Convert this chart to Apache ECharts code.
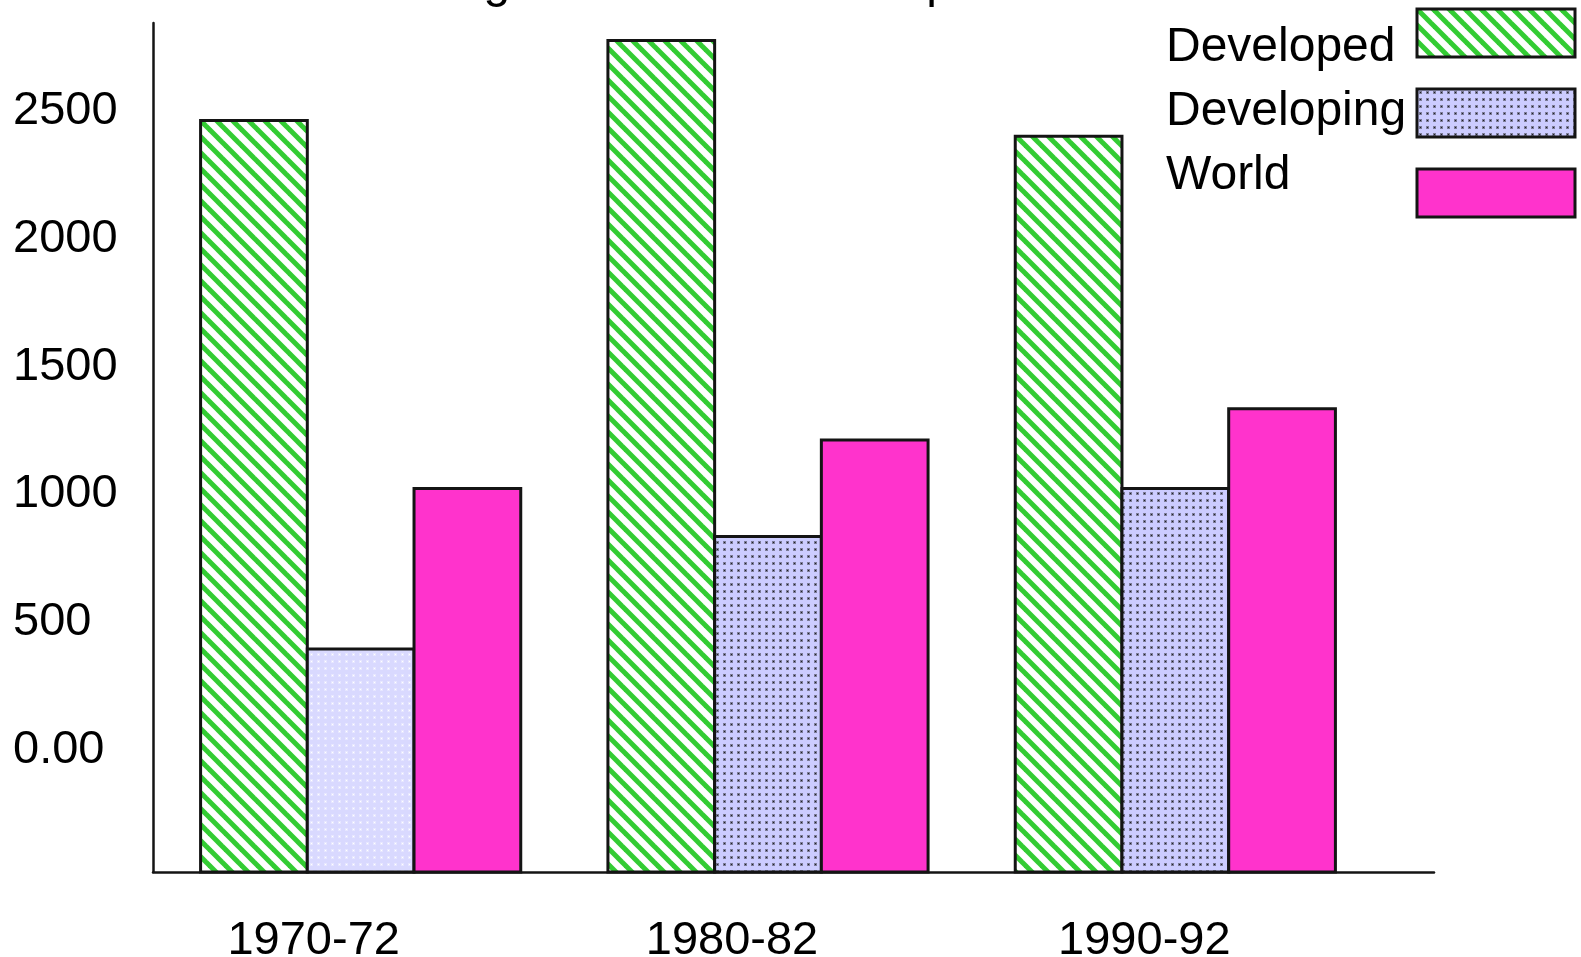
<!DOCTYPE html>
<html>
<head>
<meta charset="utf-8">
<title>Average Fertilizer Consumption</title>
<script src="https://cdn.jsdelivr.net/npm/echarts@6/dist/echarts.min.js"></script>
<style>
  html, body { margin: 0; padding: 0; background: #ffffff; }
  #chart { width: 1581px; height: 957px; }
</style>
</head>
<body>
<div id="chart"></div>
<script>
// Categories and values per group
const categories = ['1970-72', '1980-82', '1990-92'];
const developed = [2439, 2752, 2377];
const developing = [372, 812, 1000];
const world = [1000, 1189, 1312];
const seriesNames = ['Developed', 'Developing', 'World'];

// Value-axis tick labels
const yTickValues = [0, 500, 1000, 1500, 2000, 2500];
const yTickLabels = ['0.00', '500', '1000', '1500', '2000', '2500'];

const FONT = '"Liberation Sans", Arial, Helvetica, sans-serif';

// ---- fill patterns ----
function stripePattern() {
  const s = 16;
  const c = document.createElement('canvas');
  c.width = s; c.height = s;
  const g = c.getContext('2d');
  g.fillStyle = '#ffffff';
  g.fillRect(0, 0, s, s);
  g.strokeStyle = '#33cc33';
  g.lineWidth = 5;
  for (const o of [-s, 0, s]) {
    g.beginPath();
    g.moveTo(o - 2, -2);
    g.lineTo(o + s + 2, s + 2);
    g.stroke();
  }
  return { image: c, repeat: 'repeat' };
}

function dotPattern(bg, ring, core) {
  const s = 7;
  const c = document.createElement('canvas');
  c.width = s; c.height = s;
  const g = c.getContext('2d');
  g.fillStyle = bg;
  g.fillRect(0, 0, s, s);
  g.fillStyle = ring;
  g.fillRect(2, 2, 3, 3);
  g.fillStyle = core;
  g.fillRect(3, 3, 1, 1);
  return { image: c, repeat: 'repeat' };
}

const fills = [
  [stripePattern()],
  [
    dotPattern('#d9d9ff', '#e6e6ff', '#ffffff'),
    dotPattern('#ccccff', '#7c7c98', '#202028'),
    dotPattern('#ccccff', '#7c7c98', '#202028')
  ],
  ['#ff33cc']
];
const legendFills = [fills[0][0], fills[1][1], fills[2][0]];

const BAR_FRACTION = 0.262;  // width of one bar as a share of the category band
const STROKE = '#141414';

function makeRenderer(seriesIdx) {
  return function (params, api) {
    const idx = api.value(0);
    const val = api.value(1);
    const top = api.coord([idx, val]);
    const band = api.size([1, 0])[0];
    const w = band * BAR_FRACTION;
    const x0 = top[0] + 4 - w * 1.5 + seriesIdx * w;
    const baseY = params.coordSys.y + params.coordSys.height;
    const list = fills[seriesIdx];
    const fill = list[params.dataIndex] || list[0];
    return {
      type: 'rect',
      shape: { x: x0, y: top[1], width: w, height: baseY - top[1] },
      style: { fill: fill, stroke: STROKE, lineWidth: 3 }
    };
  };
}

function toData(arr) {
  return arr.map((v, i) => [i, v]);
}

const valueSets = [developed, developing, world];

// Legend: names in one column, swatches in another
const legendNames = {
  data: seriesNames.map(name => ({ name: name, itemStyle: { opacity: 0, borderWidth: 0 } })),
  left: 1160,
  top: 24,
  padding: 0,
  orient: 'vertical',
  align: 'left',
  itemWidth: 1,
  itemHeight: 1,
  itemGap: 16,
  selectedMode: false,
  textStyle: { fontFamily: FONT, fontSize: 48, color: '#000' }
};
const legendSwatches = {
  data: seriesNames.map((name, i) => ({
    name: name, icon: 'rect',
    itemStyle: { color: legendFills[i], borderColor: STROKE, borderWidth: 3 }
  })),
  left: 1415.5,
  top: 7.5,
  padding: 0,
  orient: 'vertical',
  align: 'left',
  itemWidth: 158,
  itemHeight: 48,
  itemGap: 29,
  selectedMode: false,
  formatter: () => '',
  textStyle: { fontSize: 1 }
};

const labelShift = [86, 64, 54];
const rich = {};
labelShift.forEach((p, i) => {
  rich['c' + i] = { fontFamily: FONT, fontSize: 47, color: '#000', padding: [0, p, 0, 0] };
});

const option = {
  backgroundColor: '#ffffff',
  animation: false,
  title: {
    text: 'Average Fertilizer Consumption',
    left: 359,
    top: -40,
    padding: 0,
    textStyle: {
      fontFamily: FONT, fontSize: 48, fontWeight: 'normal', color: '#000',
      textShadowColor: '#9a9a9a', textShadowOffsetX: 3, textShadowOffsetY: 3, textShadowBlur: 0
    }
  },
  legend: [legendNames, legendSwatches],
  grid: [
    { left: 153, right: 206, top: 23, bottom: 85, containLabel: false, outerBoundsMode: 'none' },
    { left: 153, right: 147, top: 23, bottom: 85, containLabel: false, outerBoundsMode: 'none' }
  ],
  xAxis: [
    {
      type: 'category',
      gridIndex: 0,
      data: categories,
      axisLine: { show: false, onZero: false },
      axisTick: { show: false },
      axisLabel: {
        margin: 46,
        fontFamily: FONT, fontSize: 47, color: '#000',
        formatter: (v, i) => '{c' + i + '|' + v + '}',
        rich: rich
      }
    },
    {
      type: 'value',
      gridIndex: 1,
      min: 0, max: 1,
      axisLine: { show: true, onZero: false, lineStyle: { color: STROKE, width: 2.5 } },
      axisTick: { show: false },
      axisLabel: { show: false },
      splitLine: { show: false }
    }
  ],
  yAxis: [
    {
      type: 'value',
      gridIndex: 0,
      min: -500,
      max: 2820,
      interval: 500,
      axisLine: { show: true, lineStyle: { color: STROKE, width: 2.5 } },
      axisTick: { show: false },
      splitLine: { show: false },
      axisLabel: {
        align: 'left',
        verticalAlign: 'top',
        lineHeight: 12,
        margin: 140,
        fontFamily: FONT, fontSize: 47, color: '#000',
        formatter: v => {
          const k = yTickValues.indexOf(v);
          return k >= 0 ? yTickLabels[k] : '';
        }
      }
    },
    {
      type: 'value',
      gridIndex: 1,
      min: 0, max: 1,
      show: false
    }
  ],
  series: seriesNames.map((name, s) => ({
    name: name,
    type: 'custom',
    xAxisIndex: 0,
    yAxisIndex: 0,
    itemStyle: { color: legendFills[s] },
    renderItem: makeRenderer(s),
    encode: { x: 0, y: 1 },
    data: toData(valueSets[s])
  }))
};

const chart = echarts.init(document.getElementById('chart'), null, { renderer: 'canvas' });
chart.setOption(option);
</script>
</body>
</html>
